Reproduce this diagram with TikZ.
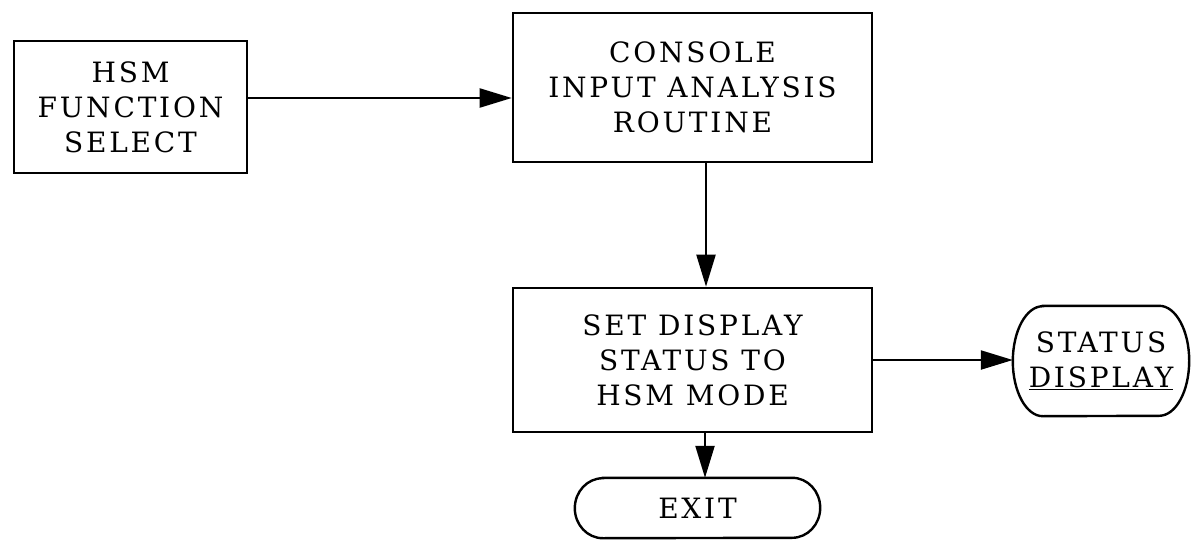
\documentclass[tikz,border=0pt]{standalone}
\usepackage{fontspec}
\setmainfont{DejaVu Serif}[LetterSpace=10]
\usetikzlibrary{arrows.meta}
\tikzset{
  boxnode/.style={draw, line width=2.6pt, rectangle, align=center, inner sep=0pt,
    font=\fontsize{28}{35}\selectfont},
  termtext/.style={align=center, inner sep=0pt, font=\fontsize{28}{35}\selectfont},
  termline/.style={line width=2.4pt},
  arr/.style={line width=2.2pt, -{Triangle[length=32pt,width=19pt]}}
}
\begin{document}
\begin{tikzpicture}[x=1pt,y=-1pt]
\useasboundingbox (0,0) rectangle (1191,540);
\node[boxnode, minimum width=233pt, minimum height=132pt] (hsm) at (130.5,107) {HSM\\FUNCTION\\SELECT};
\node[boxnode, minimum width=359pt, minimum height=149pt] (console) at (692.5,87.5) {CONSOLE\\INPUT ANALYSIS\\ROUTINE};
\node[boxnode, minimum width=359pt, minimum height=144pt] (set) at (692.5,360) {SET DISPLAY\\STATUS TO\\HSM MODE};
\node[termtext, minimum width=176pt, minimum height=110pt] (status) at (1101,361) {STATUS\\\underline{DISPLAY}};
\node[termtext, minimum width=245pt, minimum height=60pt] (exit) at (697.5,508) {EXIT};
% terminal outlines
\draw[termline] ([xshift=30pt]status.north west) -- ([xshift=-30pt]status.north east)
  arc[start angle=90, end angle=-90, x radius=30pt, y radius=55pt]
  -- ([xshift=30pt]status.south west)
  arc[start angle=270, end angle=90, x radius=30pt, y radius=55pt] -- cycle;
\draw[termline] ([xshift=28pt]exit.north west) -- ([xshift=-28pt]exit.north east)
  arc[start angle=90, end angle=-90, x radius=28pt, y radius=30pt]
  -- ([xshift=28pt]exit.south west)
  arc[start angle=270, end angle=90, x radius=28pt, y radius=30pt] -- cycle;
% connectors
\draw[arr] ([yshift=9pt]hsm.east) -- ([yshift=9pt]hsm.east -| console.west);
\draw[arr] ([xshift=13.5pt]console.south) -- ([xshift=13.5pt]console.south |- set.north);
\draw[arr] (set.east) -- (set.east -| status.west);
\draw[arr] ([xshift=12.5pt]set.south) -- ([xshift=12.5pt]set.south |- exit.north);
\end{tikzpicture}
\end{document}
